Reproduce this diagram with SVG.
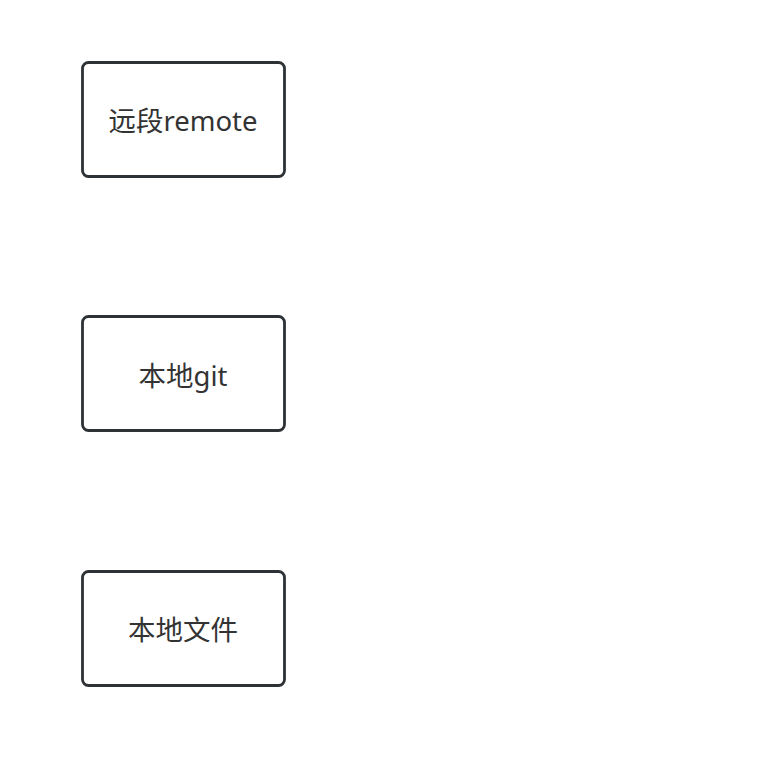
<svg xmlns="http://www.w3.org/2000/svg" width="774" height="774" viewBox="0 0 774 774">
<style>
.box{fill:#ffffff;stroke:#2d3237;stroke-width:2.8}
.lbl{font-family:"Noto Sans","Noto Sans CJK SC",sans-serif;font-size:27.5px;fill:#333333;text-anchor:middle;dominant-baseline:central}
</style>
<rect width="774" height="774" fill="#ffffff"/>
<g id="connectors"></g>
<g id="remote">
<rect class="box" x="82.5" y="62.5" width="202" height="114" rx="6"/>
<text class="lbl" x="183" y="120">远段remote</text>
</g>
<g id="local-git">
<rect class="box" x="82.5" y="316.5" width="202" height="114" rx="6"/>
<text class="lbl" x="183" y="375">本地git</text>
</g>
<g id="local-files">
<rect class="box" x="82.5" y="571.5" width="202" height="114" rx="6"/>
<text class="lbl" x="183" y="629">本地文件</text>
</g>
</svg>
